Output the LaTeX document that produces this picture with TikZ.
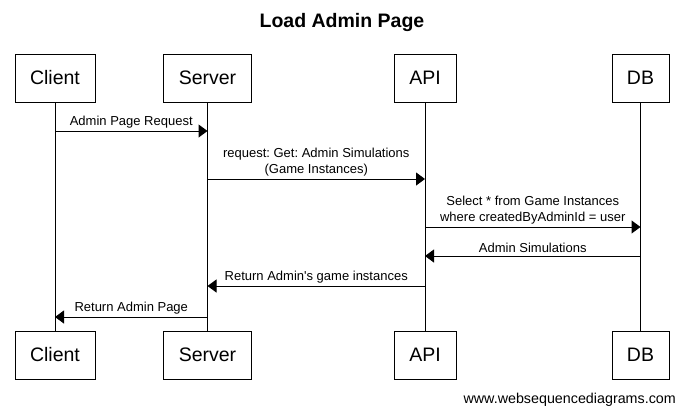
\documentclass[tikz,border=0pt]{standalone}
\usepackage{fontspec}
\setmainfont{Liberation Sans}
\usetikzlibrary{arrows.meta}
\frenchspacing
\begin{document}
\begin{tikzpicture}[x=1pt,y=-1pt,
  actor/.style={draw,line width=1pt,minimum height=48pt,inner sep=0pt,font=\fontsize{19.5}{19.5}\selectfont},
  life/.style={line width=1pt},
  msg/.style={line width=1pt,-{Triangle[length=9pt,width=13pt]}},
  lbl/.style={font=\fontsize{13}{15.5}\selectfont,align=center,inner sep=0pt,anchor=south}]
\useasboundingbox (0,0) rectangle (684,413);
\node[font=\bfseries\fontsize{19.5}{19.5}\selectfont] (title) at (342,22) {Load Admin Page};
% top boxes
\node[actor,minimum width=80pt] (cT) at (55,78) {Client};
\node[actor,minimum width=88pt] (sT) at (207.5,78) {Server};
\node[actor,minimum width=62pt] (aT) at (425,78) {API};
\node[actor,minimum width=57pt] (dT) at (640.5,78) {DB};
% bottom boxes
\node[actor,minimum width=80pt] (cB) at (55,355) {Client};
\node[actor,minimum width=88pt] (sB) at (207.5,355) {Server};
\node[actor,minimum width=62pt] (aB) at (425,355) {API};
\node[actor,minimum width=57pt] (dB) at (640.5,355) {DB};
% lifelines
\draw[life] (cT) -- (cB);
\draw[life] (sT) -- (sB);
\draw[life] (aT) -- (aB);
\draw[life] (dT) -- (dB);
% message anchor points
\coordinate (c1) at (55,131);  \coordinate (s1) at (207.5,131);
\coordinate (s2) at (207.5,179); \coordinate (a2) at (425,179);
\coordinate (a3) at (425,227); \coordinate (d3) at (640.5,227);
\coordinate (d4) at (640.5,256); \coordinate (a4) at (425,256);
\coordinate (a5) at (425,286); \coordinate (s5) at (207.5,286);
\coordinate (s6) at (207.5,317); \coordinate (c6) at (55,317);
% messages
\draw[msg] (c1) -- node[lbl,above=2.5pt] (l1) {Admin Page Request} (s1);
\draw[msg] (s2) -- node[lbl,above=2.5pt] (l2) {request: Get: Admin Simulations\\(Game Instances)} (a2);
\draw[msg] (a3) -- node[lbl,above=2.5pt] (l3) {Select * from Game Instances\\ where createdByAdminId = user} (d3);
\draw[msg] (d4) -- node[lbl,above=2.5pt] (l4) {Admin Simulations} (a4);
\draw[msg] (a5) -- node[lbl,above=2.5pt] (l5) {Return Admin\textquotesingle s game instances} (s5);
\draw[msg] (s6) -- node[lbl,above=2.5pt] (l6) {Return Admin Page} (c6);
% footer
\node[font=\fontsize{14.3}{14.3}\selectfont,anchor=base east,inner sep=0pt] (foot) at (676,403) {www.websequencediagrams.com};
\end{tikzpicture}
\end{document}
